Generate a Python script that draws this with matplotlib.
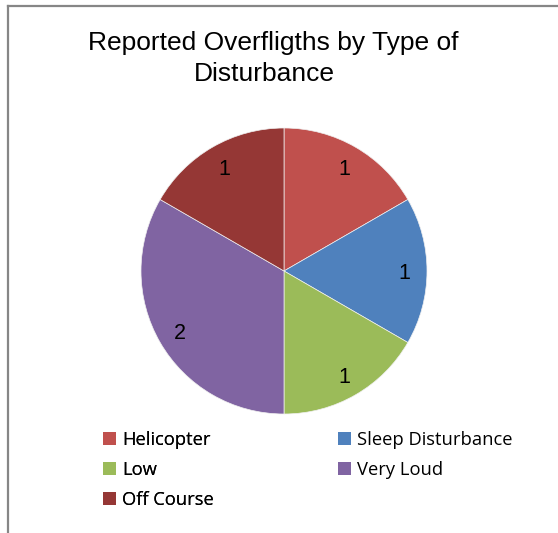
import matplotlib
matplotlib.use("Agg")
import matplotlib.pyplot as plt
from matplotlib.patches import Patch
from matplotlib.lines import Line2D

categories = ["Helicopter", "Sleep Disturbance", "Low", "Very Loud", "Off Course"]
values = [1, 1, 1, 2, 1]
colors = ["#C0504D", "#4F81BD", "#9BBB59", "#8064A2", "#953735"]
title_lines = ["Reported Overfligths by Type of", "Disturbance"]

W, H = 558, 533
fig = plt.figure(figsize=(W / 100, H / 100), dpi=100)
fig.patch.set_facecolor("white")

# frame (chart area border)
fig.add_artist(Line2D([7.5 / W, 7.5 / W], [1 - 5.5 / H, 0], color="#868686", lw=1.6, transform=fig.transFigure))
fig.add_artist(Line2D([7.5 / W, 1], [1 - 5.5 / H, 1 - 5.5 / H], color="#868686", lw=1.6, transform=fig.transFigure))

cx, cy, r = 284, 271, 143
ax = fig.add_axes([(cx - r) / W, (H - cy - r) / H, 2 * r / W, 2 * r / H])
total = sum(values)
wedges, texts, autotexts = ax.pie(
    values, colors=colors, startangle=90, counterclock=False,
    autopct=lambda p: f"{round(p * total / 100):d}", pctdistance=0.84,
    wedgeprops=dict(linewidth=0.5, edgecolor="#f0f0f0"),
    textprops=dict(fontsize=15.5, family="Liberation Sans", color="black",
                   verticalalignment="center_baseline"))
ax.set_xlim(-1, 1)
ax.set_ylim(-1, 1)
ax.set_aspect("equal")
ax.axis("off")

fig.text(273.5 / W, 1 - 43 / H, title_lines[0], ha="center", va="center", fontsize=19,
         family="Liberation Sans")
fig.text(264 / W, 1 - 74 / H, title_lines[1], ha="center", va="center", fontsize=19,
         family="Liberation Sans")

handles = [Patch(facecolor=c, edgecolor="none") for c in colors]
common = dict(loc="upper left", frameon=False, prop=dict(family="Open Sans", size=13.2),
              handlelength=0.7, handleheight=0.7, handletextpad=0.35,
              labelspacing=0.66, borderaxespad=0, borderpad=0)
col1 = [0, 2, 4]
col2 = [1, 3]
leg1 = fig.legend([handles[i] for i in col1], [categories[i] for i in col1],
                  bbox_to_anchor=(103 / W, 1 - 431 / H), **common)
fig.add_artist(leg1)
leg2 = fig.legend([handles[i] for i in col2], [categories[i] for i in col2],
                  bbox_to_anchor=(338 / W, 1 - 431 / H), **common)

fig.savefig("out.png", dpi=100)
